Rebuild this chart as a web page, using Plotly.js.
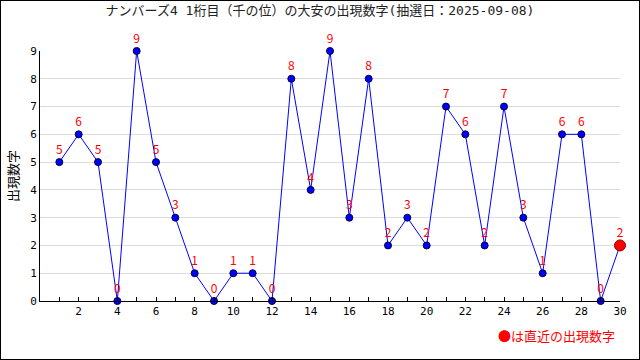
<!DOCTYPE html>
<html><head><meta charset="utf-8">
<script src="https://cdn.plot.ly/plotly-3.0.1.min.js"></script>
<style>body{margin:0;}#c{width:638px;height:358px;border:1px solid #000;}</style>
</head><body><div id="c"></div>
<script>
const draws = [1,2,3,4,5,6,7,8,9,10,11,12,13,14,15,16,17,18,19,20,21,22,23,24,25,26,27,28,29,30];
const digits = [5,6,5,0,9,5,3,1,0,1,1,0,8,4,9,3,8,2,3,2,7,6,2,7,3,1,6,6,0,2];
const xTicks = [2,4,6,8,10,12,14,16,18,20,22,24,26,28,30];
const titleText = 'ナンバーズ4 1桁目（千の位）の大安の出現数字(抽選日：2025-09-08)';
const yTitle = '出現数字';
const noteText = '●は直近の出現数字';
const font = '"Noto Sans CJK JP", "DejaVu Sans", sans-serif';
const mono = '"DejaVu Sans Mono", "Noto Sans CJK JP", monospace';
const n = draws.length;
const last = n - 1;
const traces = [
  {x: draws, y: digits, mode: 'lines+markers+text', type: 'scatter',
   line: {color: '#0000ff', width: 1},
   marker: {color: '#0000ff', size: 7, line: {color: '#000040', width: 1}},
   text: digits.map(String), textposition: 'top center',
   textfont: {color: '#ff0000', size: 12, family: font},
   cliponaxis: false, hoverinfo: 'none'},
  {x: [draws[last]], y: [digits[last]], mode: 'markers', type: 'scatter',
   marker: {color: '#ff0000', size: 11, line: {color: '#900000', width: 1}},
   cliponaxis: false, hoverinfo: 'none'}
];
const layout = {
  width: 638, height: 358, showlegend: false,
  margin: {l: 39, r: 19, t: 50, b: 58},
  paper_bgcolor: '#fff', plot_bgcolor: '#fff',
  font: {family: mono, size: 11, color: '#000'},
  title: {text: titleText, x: 0.5, xanchor: 'center', y: 0.985, yanchor: 'top', font: {size: 13, color: '#222', family: mono}},
  xaxis: {range: [0, 30], tickmode: 'array', tickvals: xTicks, showgrid: false, zeroline: false,
    showline: true, linecolor: '#000', linewidth: 1, ticks: 'inside', ticklen: 4, tickcolor: '#000',
    minor: {dtick: 1, tick0: 0, ticks: 'inside', ticklen: 4, tickcolor: '#000', showgrid: false},
    tickfont: {size: 11, family: mono}, fixedrange: true},
  yaxis: {range: [0, 9], dtick: 1, showgrid: true, gridcolor: '#dddddd', zeroline: false,
    showline: true, linecolor: '#000', linewidth: 1, ticks: '',
    title: {text: yTitle, font: {size: 13, family: font}, standoff: 8},
    tickfont: {size: 11, family: mono}, fixedrange: true},
  annotations: [{text: noteText, xref: 'paper', yref: 'paper', x: 0.995, y: -0.138,
    xanchor: 'right', yanchor: 'middle', showarrow: false, font: {color: '#ff0000', size: 13, family: font}}]
};
Plotly.newPlot('c', traces, layout, {displayModeBar: false, staticPlot: true});
</script></body></html>
